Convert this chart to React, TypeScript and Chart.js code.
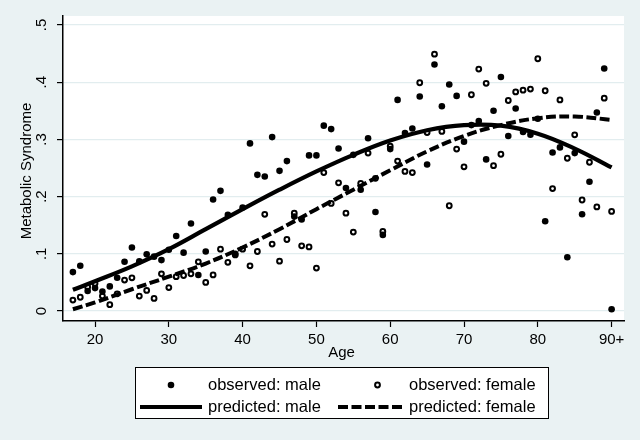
import React, { useEffect, useRef } from "react";
import { Chart, registerables } from "chart.js";

Chart.register(...registerables);

const FONT = '"Liberation Sans", Arial, Helvetica, sans-serif';
const BG = "rgb(234,242,243)";
const GRID = "rgb(226,237,239)";

// Observed ages (90 = "90+")
const ages = [
  17, 18, 19, 20, 21, 22, 23, 24, 25, 26, 27, 28, 29, 30, 31, 32, 33, 34, 35, 36,
  37, 38, 39, 40, 41, 42, 43, 44, 45, 46, 47, 48, 49, 50, 51, 52, 53, 54, 55, 56,
  57, 58, 59, 60, 61, 62, 63, 64, 65, 66, 67, 68, 69, 70, 71, 72, 73, 74, 75, 76,
  77, 78, 79, 80, 81, 82, 83, 84, 85, 86, 87, 88, 89, 90,
];

const observedMale = [
  0.068, 0.079, 0.035, 0.04, 0.034, 0.043, 0.058, 0.086, 0.111, 0.087, 0.099, 0.095, 0.089, 0.107, 0.131, 0.102, 0.153, 0.063, 0.104, 0.195,
  0.21, 0.168, 0.1, 0.181, 0.293, 0.238, 0.235, 0.304, 0.245, 0.262, 0.165, 0.16, 0.272, 0.272, 0.324, 0.318, 0.284, 0.215, 0.273, 0.212,
  0.302, 0.173, 0.133, 0.283, 0.369, 0.311, 0.319, 0.375, 0.256, 0.431, 0.358, 0.396, 0.376, 0.296, 0.325, 0.332, 0.265, 0.35, 0.409, 0.306,
  0.354, 0.313, 0.308, 0.336, 0.157, 0.277, 0.286, 0.094, 0.276, 0.169, 0.226, 0.347, 0.424, 0.003,
];

const observedFemale = [
  0.019, 0.024, 0.042, 0.048, 0.026, 0.011, 0.03, 0.054, 0.058, 0.026, 0.036, 0.022, 0.065, 0.041, 0.06, 0.062, 0.065, 0.086, 0.05, 0.063,
  0.108, 0.085, 0.098, 0.108, 0.079, 0.104, 0.169, 0.117, 0.087, 0.125, 0.171, 0.114, 0.112, 0.075, 0.242, 0.188, 0.224, 0.171, 0.138, 0.223,
  0.276, 0.232, 0.139, 0.288, 0.262, 0.244, 0.242, 0.399, 0.312, 0.449, 0.314, 0.184, 0.283, 0.252, 0.378, 0.423, 0.398, 0.254, 0.274, 0.368,
  0.383, 0.386, 0.388, 0.441, 0.385, 0.214, 0.369, 0.267, 0.308, 0.194, 0.26, 0.182, 0.372, 0.174,
];

// Predicted curves
const predAges = [17, 20, 25, 30, 35, 40, 45, 50, 55, 60, 65, 70, 75, 80, 85, 90];
const predictedMale = [0.037, 0.052, 0.078, 0.108, 0.143, 0.178, 0.212, 0.244, 0.273, 0.298, 0.316, 0.325, 0.324, 0.31, 0.284, 0.251];
const predictedFemale = [0.003, 0.015, 0.038, 0.06, 0.083, 0.111, 0.143, 0.178, 0.212, 0.246, 0.279, 0.306, 0.325, 0.337, 0.34, 0.334];

const xTicks = [20, 30, 40, 50, 60, 70, 80, 90];
const xTickLabels = ["20", "30", "40", "50", "60", "70", "80", "90+"];
const yTicks = [0, 0.1, 0.2, 0.3, 0.4, 0.5];
const yTickLabels = ["0", ".1", ".2", ".3", ".4", ".5"];

const legendLabels = ["observed: male", "observed: female", "predicted: male", "predicted: female"];

const DASH = [10, 3.5];

const decorPlugin = {
  id: "decor",
  beforeDraw(chart: any) {
    const { ctx, chartArea } = chart;
    ctx.save();
    ctx.fillStyle = BG;
    ctx.fillRect(0, 0, chart.width, chart.height);
    ctx.fillStyle = "#fff";
    ctx.fillRect(chartArea.left, chartArea.top, chartArea.right - chartArea.left, chartArea.bottom - chartArea.top);
    ctx.restore();
  },
  afterDraw(chart: any) {
    const { ctx, chartArea } = chart;
    const ys = chart.scales.y;
    ctx.save();
    ctx.fillStyle = "#000";
    ctx.font = `15px ${FONT}`;
    ctx.textAlign = "center";
    ctx.textBaseline = "middle";
    // y tick labels (rotated)
    yTicks.forEach((v, i) => {
      const py = ys.getPixelForValue(v);
      ctx.save();
      ctx.translate(42, py);
      ctx.rotate(-Math.PI / 2);
      ctx.fillText(yTickLabels[i], 0, 0);
      ctx.restore();
    });
    // y title
    ctx.save();
    ctx.translate(27, 171);
    ctx.rotate(-Math.PI / 2);
    ctx.fillText("Metabolic Syndrome", 0, 0);
    ctx.restore();
    // x title
    ctx.fillText("Age", (chartArea.left + chartArea.right) / 2 - 2, 353);

    // legend
    const bx = 135.5, by = 367.5, bw = 413, bh = 51;
    ctx.fillStyle = "#fff";
    ctx.fillRect(bx, by, bw, bh);
    ctx.strokeStyle = "#000";
    ctx.lineWidth = 1;
    ctx.strokeRect(bx, by, bw, bh);
    const r1 = 385, r2 = 407;
    // observed male symbol
    ctx.fillStyle = "#000";
    ctx.beginPath();
    ctx.arc(171, r1, 3.3, 0, Math.PI * 2);
    ctx.fill();
    // observed female symbol
    ctx.beginPath();
    ctx.arc(377.5, r1, 2.4, 0, Math.PI * 2);
    ctx.fillStyle = "#fff";
    ctx.fill();
    ctx.lineWidth = 2;
    ctx.strokeStyle = "#000";
    ctx.stroke();
    // predicted male line
    ctx.lineWidth = 4.2;
    ctx.beginPath();
    ctx.moveTo(140, r2);
    ctx.lineTo(202, r2);
    ctx.stroke();
    // predicted female dashed
    ctx.setLineDash(DASH);
    ctx.beginPath();
    ctx.moveTo(338, r2);
    ctx.lineTo(405, r2);
    ctx.stroke();
    ctx.setLineDash([]);
    // legend text
    ctx.fillStyle = "#000";
    ctx.font = `16.5px ${FONT}`;
    ctx.textAlign = "left";
    ctx.fillText(legendLabels[0], 208, r1);
    ctx.fillText(legendLabels[1], 409, r1);
    ctx.fillText(legendLabels[2], 208, r2);
    ctx.fillText(legendLabels[3], 409, r2);
    ctx.restore();
  },
};

export default function App() {
  const canvasRef = useRef<HTMLCanvasElement | null>(null);

  useEffect(() => {
    if (!canvasRef.current) return;
    const chart = new Chart(canvasRef.current, {
      type: "line",
      data: {
        datasets: [
          {
            label: legendLabels[0],
            data: ages.map((a, i) => ({ x: a, y: observedMale[i] })),
            showLine: false,
            pointRadius: 3.3,
            pointBackgroundColor: "#000",
            pointBorderColor: "#000",
            pointBorderWidth: 0,
            order: 2,
          },
          {
            label: legendLabels[1],
            data: ages.map((a, i) => ({ x: a, y: observedFemale[i] })),
            showLine: false,
            pointRadius: 2.4,
            pointBackgroundColor: "#fff",
            pointBorderColor: "#000",
            pointBorderWidth: 2,
            order: 3,
          },
          {
            label: legendLabels[2],
            data: predAges.map((a, i) => ({ x: a, y: predictedMale[i] })),
            borderColor: "#000",
            borderWidth: 4.2,
            pointRadius: 0,
            tension: 0.4,
            fill: false,
            order: 1,
          },
          {
            label: legendLabels[3],
            data: predAges.map((a, i) => ({ x: a, y: predictedFemale[i] })),
            borderColor: "#000",
            borderWidth: 4,
            borderDash: DASH,
            pointRadius: 0,
            tension: 0.4,
            fill: false,
            order: 0,
          },
        ],
      },
      options: {
        animation: false,
        responsive: false,
        maintainAspectRatio: false,
        layout: { padding: { left: 0, right: 16, top: 16, bottom: 0 } },
        plugins: { legend: { display: false }, tooltip: { enabled: false } },
        scales: {
          x: {
            type: "linear",
            min: 15.66,
            max: 91.68,
            afterFit: (s: any) => {
              s.height = 119;
            },
            afterBuildTicks: (s: any) => {
              s.ticks = xTicks.map((v) => ({ value: v }));
            },
            ticks: {
              callback: (v: any) => xTickLabels[xTicks.indexOf(Number(v))] ?? "",
              font: { family: FONT, size: 15 },
              color: "#000",
              padding: 4,
              maxRotation: 0,
              minRotation: 0,
              autoSkip: false,
            },
            grid: { drawOnChartArea: false, drawTicks: true, tickLength: 6, tickColor: "#000", tickWidth: 1.2 },
            border: { display: true, color: "#000", width: 1.5 },
          },
          y: {
            type: "linear",
            min: -0.0175,
            max: 0.5157,
            afterFit: (s: any) => {
              s.width = 63;
            },
            afterBuildTicks: (s: any) => {
              s.ticks = yTicks.map((v) => ({ value: v }));
            },
            ticks: { display: false },
            grid: { color: GRID, lineWidth: 1.2, drawTicks: true, tickLength: 6, tickColor: "#000", tickWidth: 1.2 },
            border: { display: true, color: "#000", width: 1.5 },
          },
        },
      },
      plugins: [decorPlugin],
    } as any);
    return () => chart.destroy();
  }, []);

  return (
    <div style={{ position: "absolute", left: 0, top: 0, width: 640, height: 440 }}>
      <canvas ref={canvasRef} width={640} height={440} style={{ width: 640, height: 440, display: "block" }} />
    </div>
  );
}
